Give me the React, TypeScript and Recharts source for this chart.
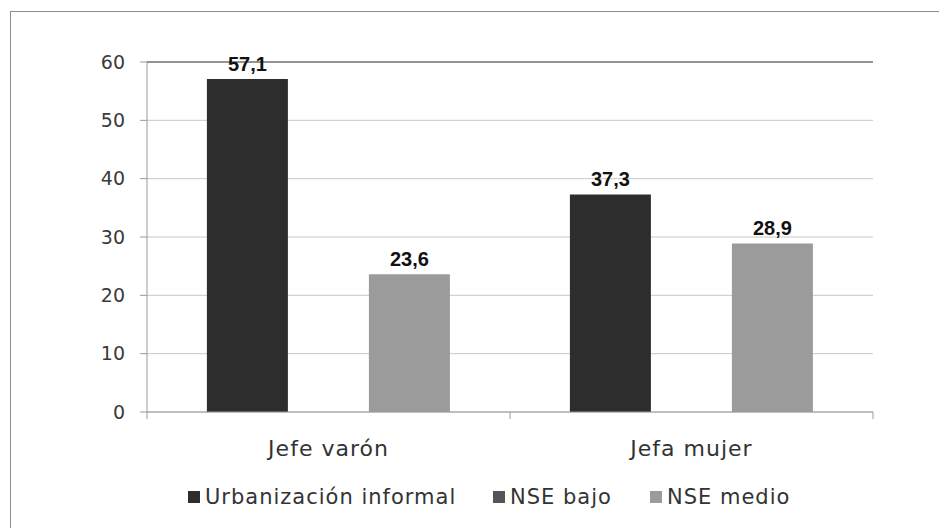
import { BarChart, Bar, XAxis, YAxis, CartesianGrid, Legend, LabelList, ReferenceLine } from 'recharts';

const categories = ['Jefe varón', 'Jefa mujer'];
const seriesNames = ['Urbanización informal', 'NSE bajo', 'NSE medio'];
const urbanizacionInformal = [57.1, 37.3];
const nseBajo: (number | null)[] = [null, null];
const nseMedio = [23.6, 28.9];
const yTicks = [0, 10, 20, 30, 40, 50, 60];

const data = categories.map((name, i) => ({
  name,
  urb: urbanizacionInformal[i],
  bajo: nseBajo[i],
  medio: nseMedio[i],
}));

const FONT = '"DejaVu Sans", sans-serif';
const AXIS = '#9a9a9a';
const fmt = (v: any) => (v == null ? '' : Number(v).toFixed(1).replace('.', ','));

// category label plus the tick marks at the band edges
function CategoryTick(props: any) {
  const { x, y, payload } = props;
  const half = payload?.offset ?? 0;
  const axisY = y - 28;
  return (
    <g>
      <line x1={x - half} x2={x - half} y1={axisY} y2={axisY + 7} stroke={AXIS} />
      {props.index === categories.length - 1 && (
        <line x1={x + half} x2={x + half} y1={axisY} y2={axisY + 7} stroke={AXIS} />
      )}
      <text x={x} y={y} dy="0.71em" textAnchor="middle" fontFamily={FONT} fontSize={22} letterSpacing={1} fill="#333">
        {payload.value}
      </text>
    </g>
  );
}

const itemWidths = [305, 157, 180];

function LegendContent(props: any) {
  const items = [...(props.payload || [])].sort(
    (a: any, b: any) => seriesNames.indexOf(a.value) - seriesNames.indexOf(b.value)
  );
  return (
    <div style={{ display: 'flex', alignItems: 'center', paddingLeft: 188, height: 30, fontFamily: FONT, fontSize: 21, letterSpacing: 1, color: '#333' }}>
      {items.map((it: any, i: number) => (
        <div key={it.value} style={{ display: 'flex', alignItems: 'center', width: itemWidths[i], flexShrink: 0 }}>
          <span style={{ width: 12, height: 12, background: it.color, marginRight: 5, display: 'inline-block', flexShrink: 0 }} />
          <span style={{ whiteSpace: 'nowrap' }}>{it.value}</span>
        </div>
      ))}
    </div>
  );
}

export default function App() {
  return (
    <div style={{ position: 'absolute', left: 0, top: 0, width: 939, height: 528, background: '#fff', overflow: 'hidden' }}>
      <div
        style={{
          position: 'absolute',
          left: 10,
          top: 11,
          width: 929,
          height: 517,
          boxSizing: 'border-box',
          borderLeft: '1px solid #8c8c8c',
          borderTop: '1px solid #8c8c8c',
        }}
      />
      <div style={{ position: 'absolute', left: 0, top: 0 }}>
        <BarChart
          width={939}
          height={528}
          data={data}
          margin={{ top: 62, right: 66, left: 87, bottom: 46 }}
          barCategoryGap="16.5%"
          barGap={0}
        >
          <CartesianGrid vertical={false} stroke="#c8c8c8" />
          <XAxis
            dataKey="name"
            height={40}
            stroke={AXIS}
            tickLine={false}
            tickSize={0}
            tickMargin={28}
            interval={0}
            tick={<CategoryTick />}
          />
          <YAxis
            domain={[0, 60]}
            ticks={yTicks}
            width={60}
            stroke={AXIS}
            tickSize={7}
            tickMargin={15}
            tick={{ fontFamily: FONT, fontSize: 19, fill: '#3a3a3a' }}
          />
          <ReferenceLine y={60} stroke="#444" />
          <Legend content={<LegendContent />} wrapperStyle={{ top: 482, left: 0, width: 939 }} />
          <Bar dataKey="urb" name={seriesNames[0]} fill="#2d2d2d" isAnimationActive={false}>
            <LabelList dataKey="urb" position="top" offset={8} formatter={fmt} style={{ fontFamily: '"Liberation Sans", Arial, sans-serif', fontWeight: 700, fontSize: 20, fill: '#111' }} />
          </Bar>
          <Bar dataKey="bajo" name={seriesNames[1]} fill="#555555" isAnimationActive={false} />
          <Bar dataKey="medio" name={seriesNames[2]} fill="#9b9b9b" isAnimationActive={false}>
            <LabelList dataKey="medio" position="top" offset={8} formatter={fmt} style={{ fontFamily: '"Liberation Sans", Arial, sans-serif', fontWeight: 700, fontSize: 20, fill: '#111' }} />
          </Bar>
        </BarChart>
      </div>
    </div>
  );
}
